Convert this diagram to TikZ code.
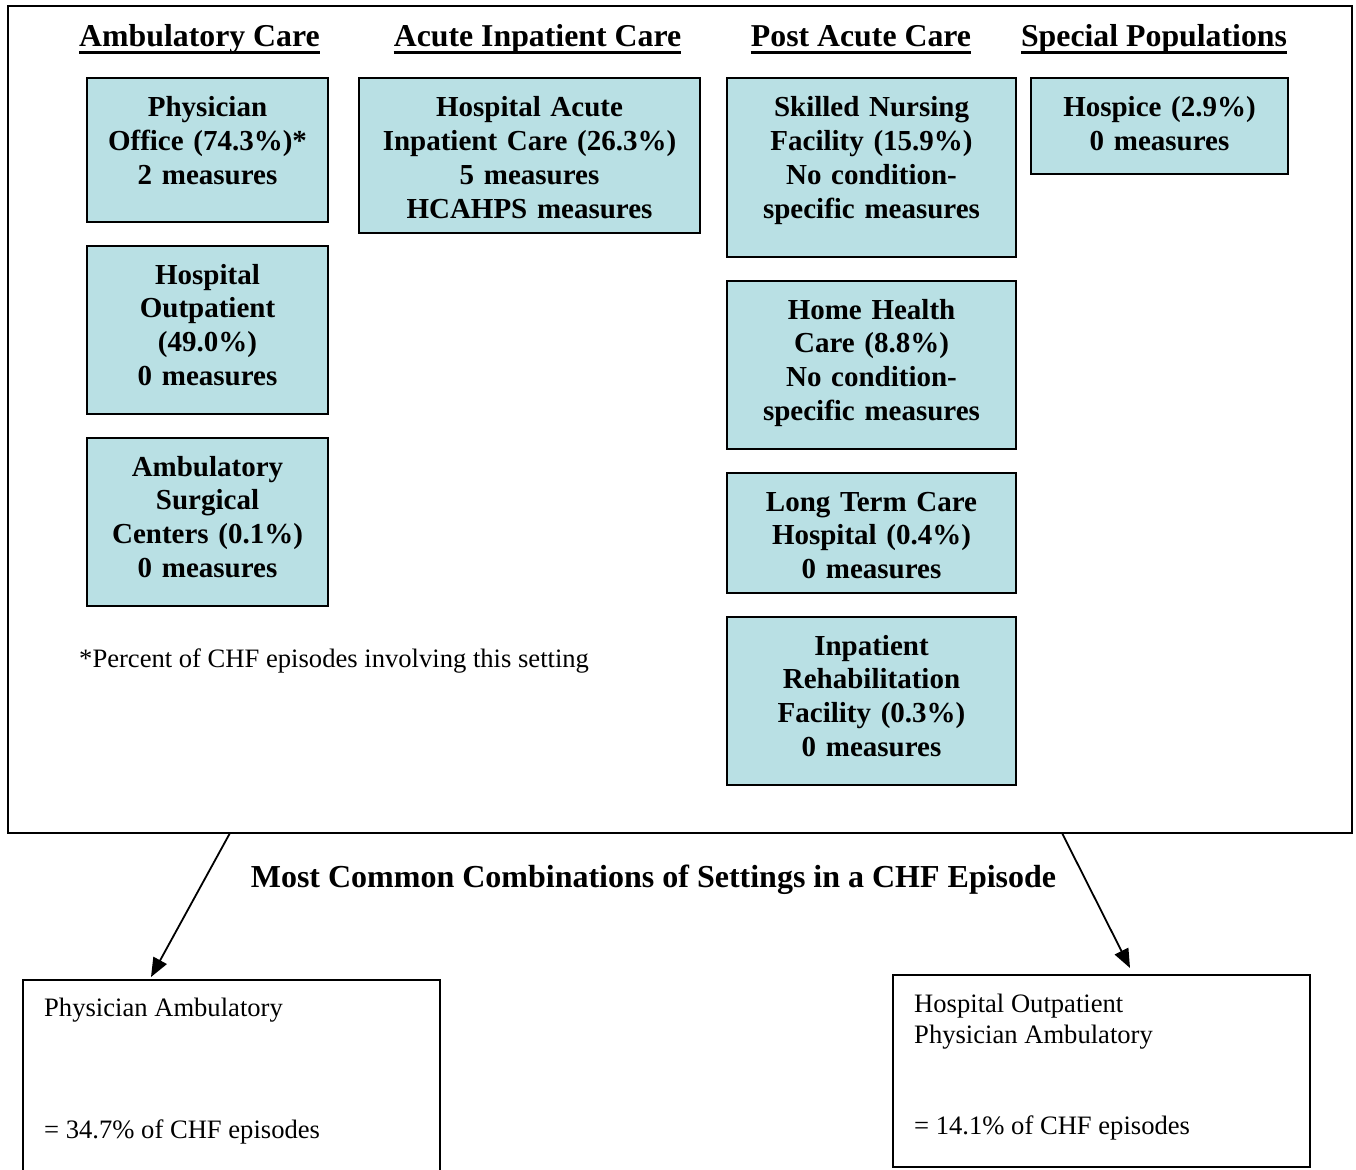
\documentclass[tikz,border=0pt]{standalone}
\usepackage{fontspec}
\setmainfont{Liberation Serif}
\usetikzlibrary{calc,arrows.meta}
\definecolor{settingfill}{RGB}{185,224,228}
\begin{document}
\begin{tikzpicture}[x=1pt,y=-1pt,
  settingbox/.style={draw=black, line width=1.8pt, fill=settingfill, inner sep=0pt, outer sep=0pt},
  settingtext/.style={anchor=base, inner sep=0pt, align=center,
    font=\fontsize{29}{33.8}\selectfont\bfseries},
  header/.style={anchor=base, inner sep=0pt, font=\fontsize{31.8}{36}\selectfont\bfseries},
  plaintext/.style={anchor=base west, inner sep=0pt, align=flush left,
    font=\fontsize{26.6}{31}\selectfont},
  combobox/.style={draw=black, line width=1.8pt, inner sep=0pt, outer sep=0pt},
  pointer/.style={line width=1.8pt, -{Triangle[length=19pt,width=15pt]}}
]
\useasboundingbox (0,0) rectangle (1356,1169);

% outer frame around the care settings
\node[draw=black, line width=1.8pt, inner sep=0pt, minimum width=1344pt, minimum height=827pt]
  (frame) at (680,419.5) {};

% column headers, underlined
\node[header] (hamb) at (199.5,47) {Ambulatory Care};
\node[header] (hacu) at (537.5,47) {Acute Inpatient Care};
\node[header] (hpac) at (861,47) {Post Acute Care};
\node[header] (hspe) at (1154,47) {Special Populations};
\foreach \h in {hamb,hacu,hpac,hspe}
  \draw[line width=3.6pt] ($(\h.base west)+(0,5.5)$) -- ($(\h.base east)+(0,5.5)$);

% setting boxes
\node[settingbox, minimum width=241pt, minimum height=144pt] (po) at (207.5,150) {};
\node[settingbox, minimum width=241pt, minimum height=168pt] (ho) at (207.5,330) {};
\node[settingbox, minimum width=241pt, minimum height=168pt] (asc) at (207.5,522) {};
\node[settingbox, minimum width=341pt, minimum height=155pt] (hai) at (529.5,155.5) {};
\node[settingbox, minimum width=289pt, minimum height=179pt] (snf) at (871.5,167.5) {};
\node[settingbox, minimum width=289pt, minimum height=168pt] (hhc) at (871.5,365) {};
\node[settingbox, minimum width=289pt, minimum height=120pt] (ltc) at (871.5,533) {};
\node[settingbox, minimum width=289pt, minimum height=168pt] (irf) at (871.5,701) {};
\node[settingbox, minimum width=257pt, minimum height=96pt] (hos) at (1159.5,126) {};

% box texts, first baseline about 39pt below each top edge
\node[settingtext, text width=230pt] (po-t) at ($(po.north)+(0,39)$)
  {Physician\\Office (74.3\%)*\\2 measures};
\node[settingtext, text width=230pt] (ho-t) at ($(ho.north)+(0,38)$)
  {Hospital\\Outpatient\\(49.0\%)\\0 measures};
\node[settingtext, text width=230pt] (asc-t) at ($(asc.north)+(0,38)$)
  {Ambulatory\\Surgical\\Centers (0.1\%)\\0 measures};
\node[settingtext, text width=330pt] (hai-t) at ($(hai.north)+(0,39)$)
  {Hospital Acute\\Inpatient Care (26.3\%)\\5 measures\\HCAHPS measures};
\node[settingtext, text width=280pt] (snf-t) at ($(snf.north)+(0,39)$)
  {Skilled Nursing\\Facility (15.9\%)\\No condition-\\specific measures};
\node[settingtext, text width=280pt] (hhc-t) at ($(hhc.north)+(0,38)$)
  {Home Health\\Care (8.8\%)\\No condition-\\specific measures};
\node[settingtext, text width=280pt] (ltc-t) at ($(ltc.north)+(0,38)$)
  {Long Term Care\\Hospital (0.4\%)\\0 measures};
\node[settingtext, text width=280pt] (irf-t) at ($(irf.north)+(0,38)$)
  {Inpatient\\Rehabilitation\\Facility (0.3\%)\\0 measures};
\node[settingtext, text width=250pt] (hos-t) at ($(hos.north)+(0,39)$)
  {Hospice (2.9\%)\\0 measures};

% footnote
\node[plaintext] (note) at (79,667) {*Percent of CHF episodes involving this setting};

% combinations title
\node[anchor=base, inner sep=0pt, font=\fontsize{32}{36}\selectfont\bfseries] (title) at (653.5,887)
  {Most Common Combinations of Settings in a CHF Episode};

% combination boxes
\node[combobox, minimum width=417pt, minimum height=200pt] (combL) at (231.5,1080) {};
\node[combobox, minimum width=417pt, minimum height=192pt] (combR) at (1101.5,1071) {};
\node[plaintext, text width=380pt] (combL-a) at (44,1016) {Physician Ambulatory};
\node[plaintext, text width=380pt] (combL-b) at (44,1138) {= 34.7\% of CHF episodes};
\node[plaintext, text width=380pt] (combR-a) at (914,1012) {Hospital Outpatient\\Physician Ambulatory};
\node[plaintext, text width=380pt] (combR-b) at (914,1134) {= 14.1\% of CHF episodes};

% arrows from the frame down to the combinations
\coordinate (srcL) at (230,833);
\coordinate (dstL) at (151,977);
\coordinate (srcR) at (1062,833);
\coordinate (dstR) at (1130,968);
\draw[pointer] (srcL) -- (dstL);
\draw[pointer] (srcR) -- (dstR);
\end{tikzpicture}
\end{document}
